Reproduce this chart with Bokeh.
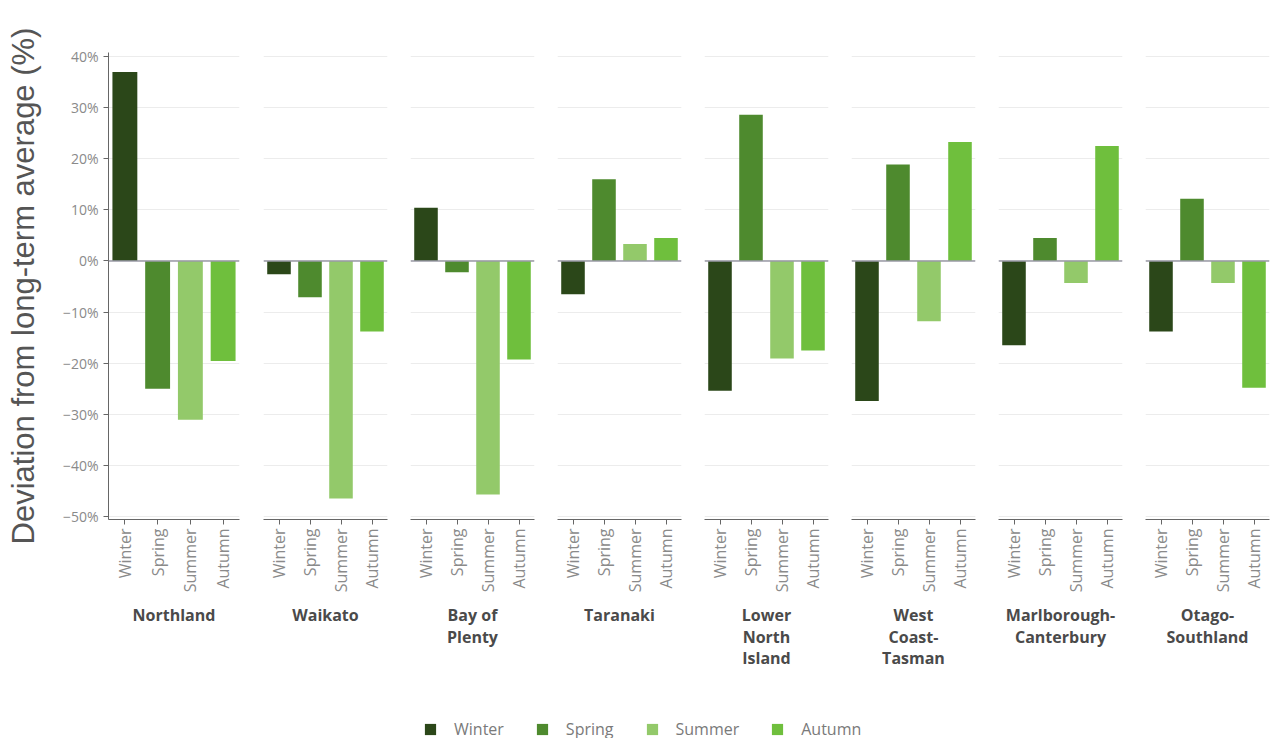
import math
from bokeh.plotting import figure
from bokeh.layouts import row, column
from bokeh.models import Range1d, FactorRange, FixedTicker, Span, Legend, LegendItem, ColumnDataSource
from bokeh.embed import file_html
from bokeh.resources import INLINE

regions = ["Northland", "Waikato", "Bay of\nPlenty", "Taranaki", "Lower\nNorth\nIsland",
           "West\nCoast-\nTasman", "Marlborough-\nCanterbury", "Otago-\nSouthland"]
seasons = ["Winter", "Spring", "Summer", "Autumn"]
winter = [37.0, -2.6, 10.4, -6.5, -25.4, -27.4, -16.5, -13.8]
spring = [-25.0, -7.1, -2.2, 16.0, 28.6, 18.9, 4.5, 12.2]
summer = [-31.1, -46.5, -45.7, 3.3, -19.1, -11.8, -4.3, -4.3]
autumn = [-19.6, -13.8, -19.3, 4.5, -17.5, 23.3, 22.5, -24.8]
y_ticks = [-50, -40, -30, -20, -10, 0, 10, 20, 30, 40]
y_tick_labels = ["\u221250%", "\u221240%", "\u221230%", "\u221220%", "\u221210%", "0%", "10%", "20%", "30%", "40%"]
y_title = "Deviation from long-term average (%)"
colors = ["#2b4719", "#4e8a2e", "#93c96a", "#6fbf3d"]

AXIS_COL = "#666666"
TICK_TXT = "#8a8a8a"

panels = []
total_width = 0
n = len(regions)
for i, reg in enumerate(regions):
    first = i == 0
    last = i == n - 1
    fw = 131 if first else 124
    bl = 108 if first else 12
    br = 12 if first else (3 if last else 11)
    total_width += bl + fw + br
    p = figure(frame_width=fw, frame_height=467,
               x_range=FactorRange(*seasons, range_padding=0),
               y_range=Range1d(-50.6, 40.8),
               output_backend="svg", toolbar_location=None,
               min_border_left=bl, min_border_right=br,
               min_border_top=52, min_border_bottom=197)
    vals = [winter[i], spring[i], summer[i], autumn[i]]
    src = ColumnDataSource(dict(season=seasons, top=vals, color=colors))
    p.vbar(x="season", top="top", bottom=0, width=0.76, fill_color="color",
           line_color=None, source=src)
    p.add_layout(Span(location=0, dimension="width", line_color="#9a9aa6", line_width=1.5))

    p.outline_line_color = None
    p.xgrid.grid_line_color = None
    p.ygrid.ticker = FixedTicker(ticks=y_ticks)
    p.ygrid.grid_line_color = "#ececec"
    p.ygrid.grid_line_width = 1

    ax = p.xaxis[0]
    ax.axis_line_color = AXIS_COL
    ax.major_tick_line_color = AXIS_COL
    ax.major_tick_out = 5
    ax.major_tick_in = 0
    ax.major_label_orientation = math.pi / 2
    ax.major_label_text_font = "Open Sans"
    ax.major_label_text_font_size = "16px"
    ax.major_label_text_color = TICK_TXT
    ax.major_label_standoff = 4
    ax.axis_label = reg
    ax.axis_label_text_font = "Open Sans"
    ax.axis_label_text_font_style = "bold"
    ax.axis_label_text_font_size = "16px"
    ax.axis_label_text_line_height = 0.97
    ax.axis_label_text_color = "#4a4a4a"
    ax.axis_label_standoff = 9

    ya = p.yaxis[0]
    if first:
        ya.ticker = FixedTicker(ticks=y_ticks)
        ya.major_label_overrides = {t: l for t, l in zip(y_ticks, y_tick_labels)}
        ya.axis_line_color = AXIS_COL
        ya.major_tick_line_color = AXIS_COL
        ya.minor_tick_line_color = None
        ya.major_tick_out = 5
        ya.major_tick_in = 0
        ya.major_label_text_font = "Open Sans"
        ya.major_label_text_font_size = "14px"
        ya.major_label_text_color = TICK_TXT
        ya.major_label_standoff = 5
        ya.axis_label = y_title
        ya.axis_label_text_font = "Liberation Sans"
        ya.axis_label_text_font_style = "normal"
        ya.axis_label_text_font_size = "31px"
        ya.axis_label_text_color = "#555555"
        ya.axis_label_standoff = 19
    else:
        ya.visible = False
    panels.append(p)

leg = figure(width=total_width, height=24, output_backend="svg", toolbar_location=None,
             min_border=0, x_range=Range1d(0, 1), y_range=Range1d(0, 1),
             x_axis_location=None, y_axis_location=None)
leg.outline_line_color = None
leg.grid.grid_line_color = None
# dummy swatch renderers placed outside the visible range, used only for legend glyphs
rs = [leg.vbar(x=[5], top=[6], bottom=5, width=0.1, fill_color=c, line_color=None) for c in colors]
legend = Legend(items=[LegendItem(label=s, renderers=[r]) for s, r in zip(seasons, rs)],
                orientation="horizontal", location=(423, 0),
                glyph_width=14, glyph_height=14, label_standoff=17, spacing=31,
                label_text_font="Open Sans", label_text_font_size="16px",
                label_text_color="#7a7a7a", padding=0, margin=0,
                border_line_color=None, background_fill_alpha=0)
leg.add_layout(legend, "center")

layout = column(row(*panels), leg)
open("out.html", "w").write(file_html(layout, INLINE))
